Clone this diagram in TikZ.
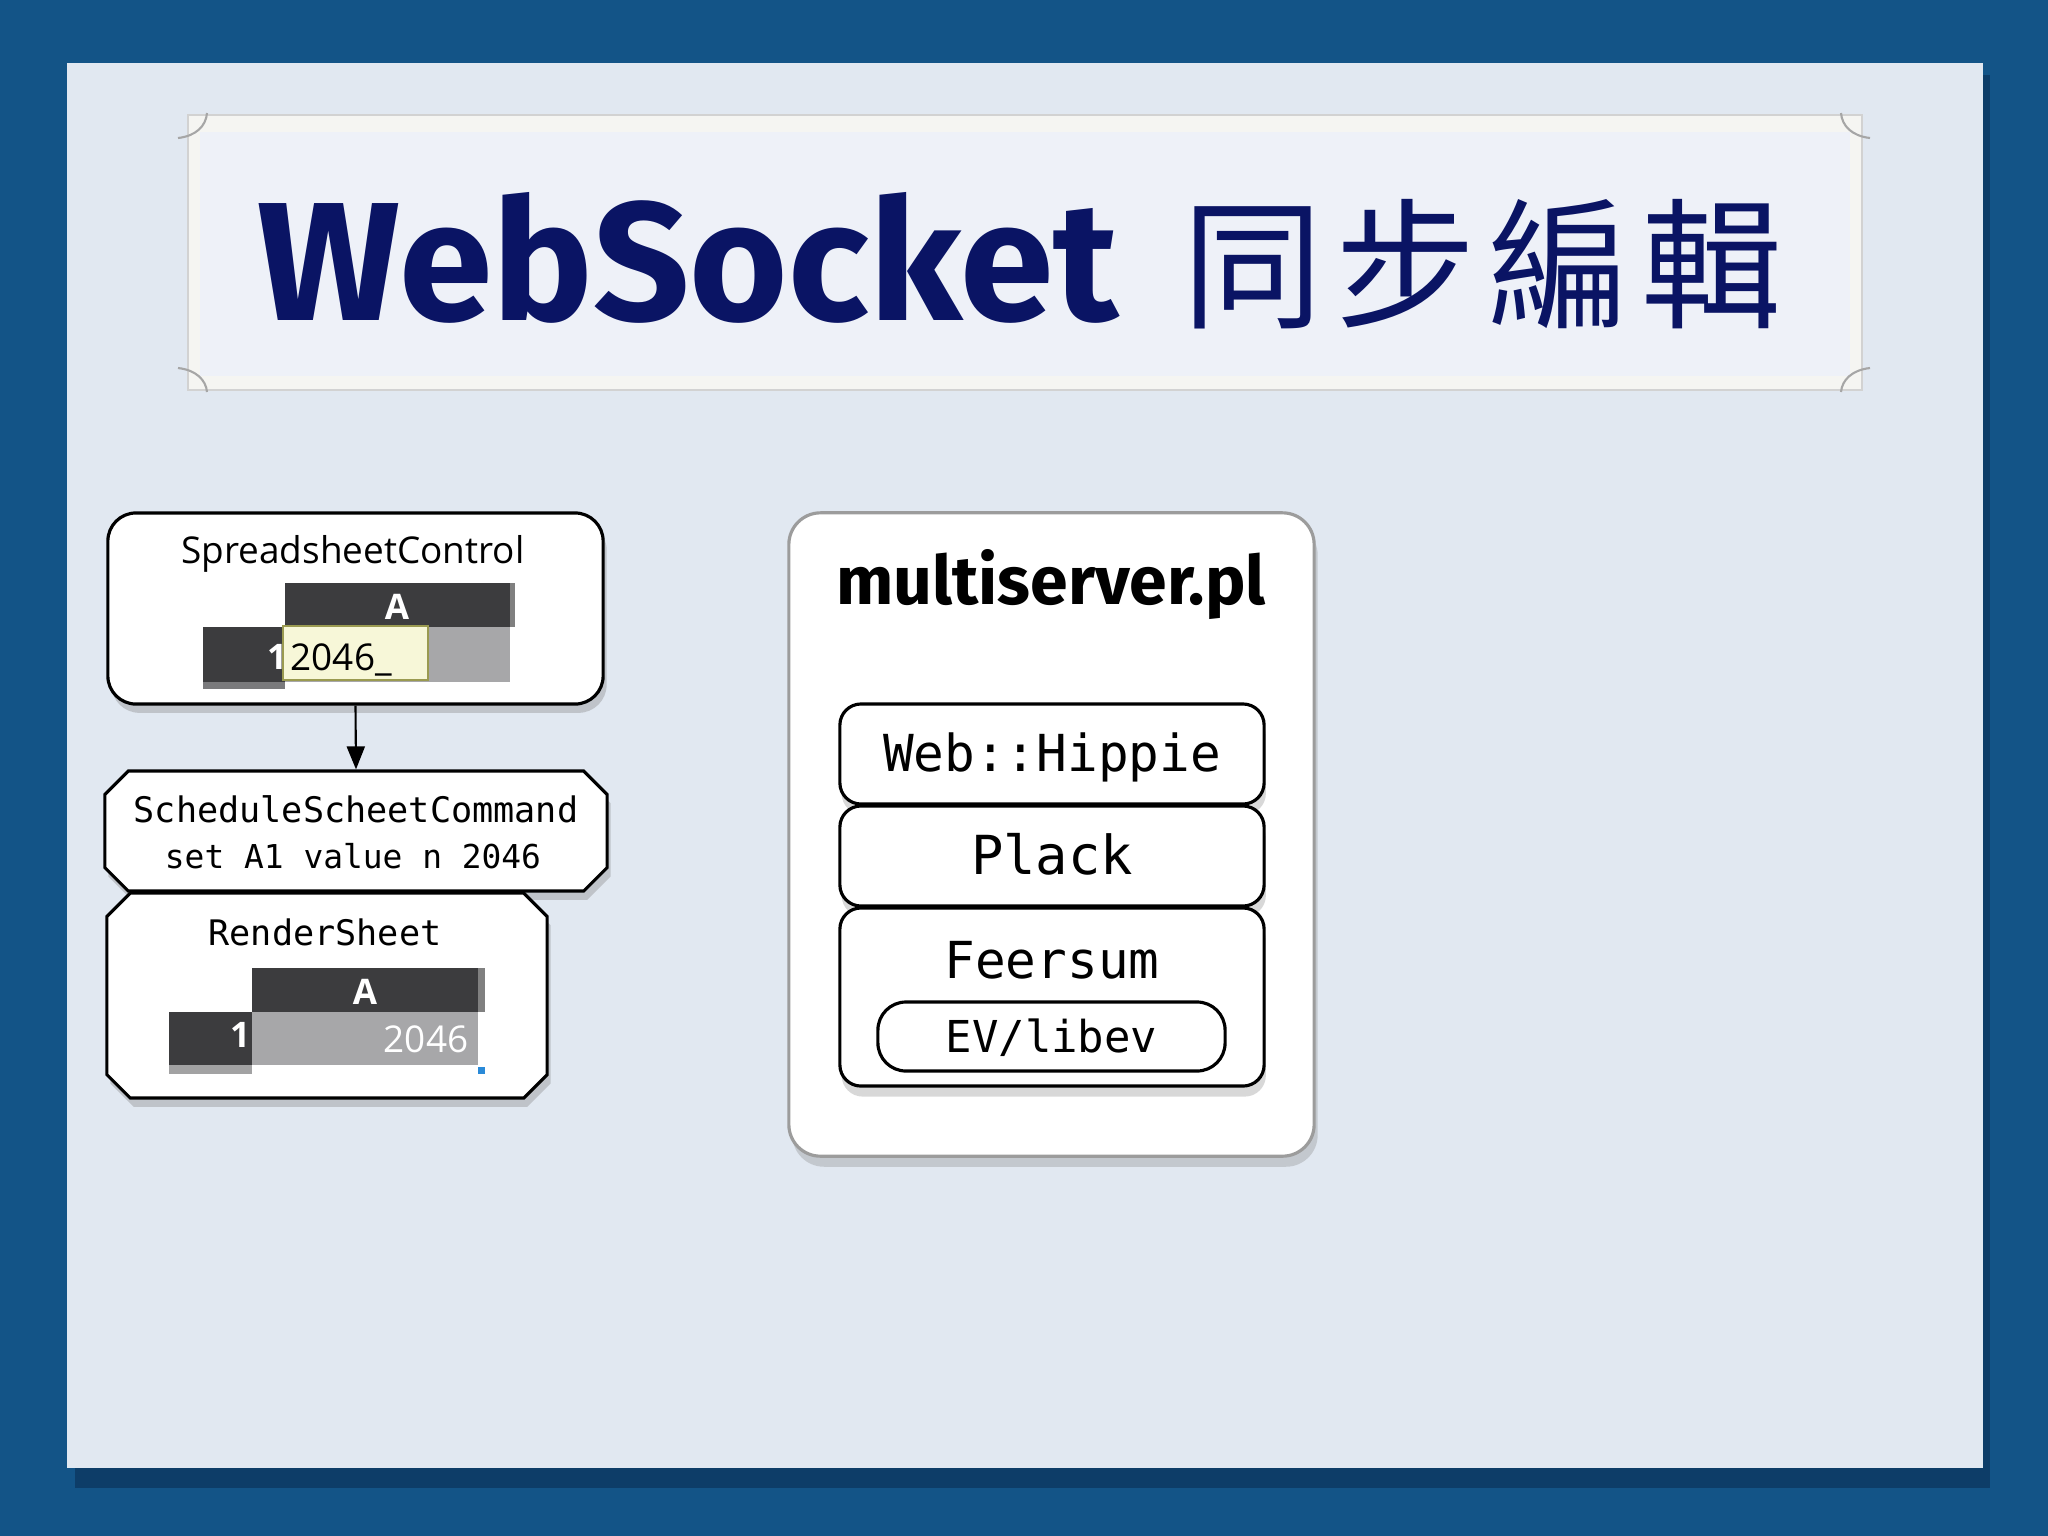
\documentclass[tikz,border=0pt]{standalone}
\usepackage{fontspec}
\usetikzlibrary{shapes.misc,shadows,arrows.meta}
\newfontfamily\titlefont{Fira Sans}
\newfontfamily\cjkfont{Noto Sans CJK TC}
\newfontfamily\monofont{DejaVu Sans Mono}
\newfontfamily\uifont{Open Sans}
\definecolor{bgblue}{HTML}{135487}
\definecolor{panelshadow}{HTML}{0D3D68}
\definecolor{panel}{HTML}{E1E8F1}
\definecolor{bannerband}{HTML}{F5F5F2}
\definecolor{bannerin}{HTML}{EEF1F8}
\definecolor{navy}{HTML}{0A1464}
\definecolor{celldark}{HTML}{3C3C3E}
\definecolor{cellgray}{HTML}{A7A7A9}
\definecolor{stripgray}{HTML}{7A7A7C}
\definecolor{editfill}{HTML}{F7F7D8}
\definecolor{editline}{HTML}{9A9A50}
\definecolor{selblue}{HTML}{2A8AD8}
\definecolor{outergray}{HTML}{9C9C9C}
\tikzset{
  roundbox/.style={draw=black, line width=0.9pt, fill=white, rounded corners=8pt,
    drop shadow={shadow xshift=1pt, shadow yshift=-2.5pt, opacity=.35}},
  chambox/.style={draw=black, line width=0.9pt, fill=white, chamfered rectangle,
    chamfered rectangle sep=2mm,
    drop shadow={shadow xshift=1pt, shadow yshift=-2.5pt, opacity=.35}},
  layerbox/.style={draw=black, line width=0.9pt, fill=white, rounded corners=6pt,
    minimum width=4.24cm, drop shadow={shadow xshift=0.5pt, shadow yshift=-3pt, opacity=.3}},
  outerbox/.style={draw=outergray, line width=0.9pt, fill=white, rounded corners=9pt,
    drop shadow={shadow xshift=1pt, shadow yshift=-3pt, opacity=.3}},
  monotxt/.style={inner sep=0pt, anchor=base, font=\monofont\fontsize{10}{12}\selectfont},
  uitxt/.style={inner sep=0pt, anchor=base, font=\uifont\fontsize{10.5}{12}\selectfont},
  celltxt/.style={inner sep=0pt, anchor=base, text=white, font=\uifont\bfseries\fontsize{10}{12}\selectfont},
  curl/.style={draw=gray!70, line width=0.6pt},
}
\begin{document}
\begin{tikzpicture}[x=0.01cm, y=-0.01cm]
\useasboundingbox (0,0) rectangle (2048,1536);
% background and panel
\fill[bgblue] (0,0) rectangle (2048,1536);
\fill[panelshadow] (75,75) rectangle (1990,1488);
\fill[panel] (67,63) rectangle (1983,1468);
% title banner
\fill[bannerband] (188,115) rectangle (1862,390);
\fill[bannerin] (200,132) rectangle (1850,376);
\draw[gray!35, line width=0.4pt] (188,115) rectangle (1862,390);
\draw[curl] (178,138) .. controls (196,136) and (206,126) .. (207,113);
\draw[curl] (1870,138) .. controls (1852,136) and (1842,126) .. (1841,113);
\draw[curl] (178,368) .. controls (196,370) and (206,380) .. (207,392);
\draw[curl] (1870,368) .. controls (1852,370) and (1842,380) .. (1841,392);
\node[inner sep=0pt, anchor=base west, text=navy, font=\titlefont\bfseries\fontsize{48}{56}\selectfont] (title) at (257,320) {WebSocket};
\node[inner sep=0pt, anchor=west, text=navy, font=\cjkfont\fontsize{40}{48}\selectfont] (titlecjk) at (1182,264) {同\kern3.5pt 步\kern3.5pt 編\kern3.5pt 輯};

% left column boxes
\node[roundbox, minimum width=4.95cm, minimum height=1.91cm] (b1) at (355.5,608.5) {};
\node[chambox, minimum width=5.02cm, minimum height=1.20cm] (b2) at (356,831) {};
\node[chambox, minimum width=4.40cm, minimum height=2.05cm] (b3) at (327,995.5) {};
\draw[line width=0.6pt, -{Triangle[length=2.3mm, width=1.8mm]}] (b1.south) -- (b2.north);

% box 1 content
\node[uitxt] (t1) at (353,563) {SpreadsheetControl};
\fill[celldark] (285,583) rectangle (515,627);
\fill[gray] (510,583) rectangle (515,627);
\fill[celldark] (203,627) rectangle (285,682);
\fill[stripgray] (203,682) rectangle (285,689);
\fill[cellgray] (285,627) rectangle (510,682);
\node[celltxt] (a1) at (397,619) {A};
\node[celltxt, anchor=base east] (r1) at (288,669) {1};
\draw[editline, fill=editfill, line width=0.6pt] (283,626) rectangle (428,680);
\node[uitxt, anchor=base west, font=\uifont\fontsize{10.5}{12}\selectfont] (e1) at (290,670) {2046\_};

% box 2 content
\node[monotxt] (t2a) at (356,822) {ScheduleScheetCommand};
\node[monotxt, font=\monofont\fontsize{9.35}{11}\selectfont] (t2b) at (353,868) {set A1 value n 2046};

% box 3 content
\node[monotxt] (t3) at (325,945) {RenderSheet};
\fill[celldark] (252,968) rectangle (485,1012);
\fill[gray] (478,968) rectangle (485,1012);
\fill[celldark] (169,1012) rectangle (252,1065);
\fill[stripgray!70] (169,1065) rectangle (252,1074);
\fill[cellgray] (252,1012) rectangle (478,1065);
\fill[selblue] (478,1067) rectangle (485,1074);
\node[celltxt] (a3) at (365,1004) {A};
\node[celltxt, anchor=base east] (r3) at (251,1047) {1};
\node[celltxt, anchor=base east, font=\uifont\fontsize{10.5}{12}\selectfont] (v3) at (469,1052) {2046};

% right box
\node[outerbox, minimum width=5.25cm, minimum height=6.43cm] (srv) at (1051.5,834.5) {};
\node[inner sep=0pt, anchor=base, font=\titlefont\bfseries\fontsize{19.3}{22}\selectfont] (srvt) at (1051,604) {multiserver.pl};
\node[layerbox, minimum height=1.0cm] (hip) at (1052,754) {};
\node[layerbox, minimum height=1.0cm] (plk) at (1052,856) {};
\node[layerbox, minimum height=1.78cm] (fee) at (1052,997) {};
\node[draw=black, line width=0.9pt, rounded corners=8pt, minimum width=3.47cm, minimum height=0.69cm] (ev) at (1051.5,1036.5) {};
\node[monotxt, font=\monofont\fontsize{14.5}{16}\selectfont] (hipt) at (1052,771) {Web::Hippie};
\node[monotxt, font=\monofont\fontsize{15.3}{17}\selectfont] (plkt) at (1052,874) {Plack};
\node[monotxt, font=\monofont\fontsize{14.5}{16}\selectfont] (feet) at (1052,978) {Feersum};
\node[monotxt, font=\monofont\fontsize{12.5}{14}\selectfont] (evt) at (1051.5,1052) {EV/libev};
\end{tikzpicture}
\end{document}
